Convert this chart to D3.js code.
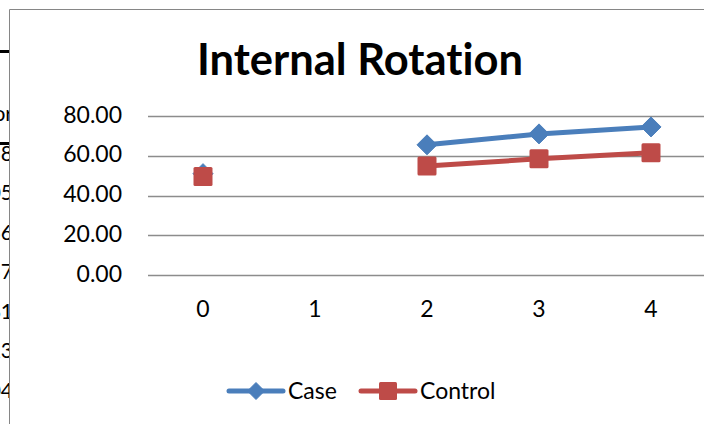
<!DOCTYPE html>
<html lang="en">
<head>
    <meta charset="UTF-8">
    <title>Internal Rotation</title>
    <script src="https://d3js.org/d3.v7.min.js"></script>
    <style>
        body { margin: 0; background: #fff; }
        svg { display: block; font-family: Lato, "Open Sans", sans-serif; font-variant-ligatures: none; font-feature-settings: "liga" 0; }
    </style>
</head>
<body>
    <svg id="chart" width="704" height="424"></svg>

    <script>
        // Data
        const categories = ["0", "1", "2", "3", "4"];
        const caseValues = [51, null, 65.5, 71, 74.5];
        const controlValues = [49.5, null, 54.8, 58.5, 61.5];
        const yTicks = [0, 20, 40, 60, 80];
        // bits of the spreadsheet peeking out on the left
        const sheetBits = ["or", "38", "05", "36", "57", "61", "23", "04"];

        const svg = d3.select("#chart");
        const W = 704, H = 424;

        svg.append("rect").attr("width", W).attr("height", H).attr("fill", "#fff");

        // spreadsheet remnants left of the chart frame
        svg.append("clipPath").attr("id", "leftClip")
            .append("rect").attr("x", 0).attr("y", 0).attr("width", 9).attr("height", H);
        const sheet = svg.append("g").attr("clip-path", "url(#leftClip)");
        sheet.selectAll("text")
            .data(sheetBits)
            .enter()
            .append("text")
            .attr("x", 13)
            .attr("y", (d, i) => 121 + i * 39.5)
            .attr("text-anchor", "end")
            .attr("font-size", 21)
            .attr("fill", "#000")
            .text(d => d);
        sheet.append("rect").attr("x", 0).attr("y", 50).attr("width", 9).attr("height", 3).attr("fill", "#000");
        sheet.append("rect").attr("x", 0).attr("y", 142).attr("width", 9).attr("height", 3).attr("fill", "#000");

        // chart frame
        svg.append("path")
            .attr("d", `M9.5,${H} V9.5 H${W}`)
            .attr("fill", "none")
            .attr("stroke", "#868686")
            .attr("stroke-width", 1);

        // title
        svg.append("text")
            .attr("x", 360)
            .attr("y", 75)
            .attr("text-anchor", "middle")
            .attr("font-size", 43.5)
            .attr("font-weight", "bold")
            .attr("fill", "#000")
            .text("Internal Rotation");

        // scales
        const x = d3.scaleBand().domain(categories).range([147, 707]);
        const y = d3.scaleLinear().domain([0, 80]).range([275, 116]);
        const cx = c => x(c) + x.bandwidth() / 2;

        // gridlines (with the little outside tick)
        svg.append("g")
            .selectAll("line")
            .data(yTicks)
            .enter()
            .append("line")
            .attr("x1", 148)
            .attr("x2", W)
            .attr("y1", d => Math.round(y(d)) + 0.5)
            .attr("y2", d => Math.round(y(d)) + 0.5)
            .attr("stroke", "#8c8c8c")
            .attr("stroke-width", 1.5);

        // y axis labels
        svg.append("g")
            .selectAll("text")
            .data(yTicks)
            .enter()
            .append("text")
            .attr("x", 122)
            .attr("y", d => y(d) + 6.5)
            .attr("text-anchor", "end")
            .attr("font-size", 23)
            .attr("fill", "#000")
            .text(d => d.toFixed(2));

        // x axis labels
        svg.append("g")
            .selectAll("text")
            .data(categories)
            .enter()
            .append("text")
            .attr("x", d => cx(d))
            .attr("y", 317)
            .attr("text-anchor", "middle")
            .attr("font-size", 23)
            .attr("fill", "#000")
            .text(d => d);

        const series = [
            { name: "Case", values: caseValues, color: "#4A7EBB", shape: "diamond" },
            { name: "Control", values: controlValues, color: "#BE4B48", shape: "square" }
        ];

        const line = d3.line()
            .defined(d => d.v != null)
            .x(d => cx(d.c))
            .y(d => y(d.v));

        function marker(g, shape, color, s) {
            if (shape === "diamond") {
                g.append("path")
                    .attr("d", `M0,${-s} L${s},0 L0,${s} L${-s},0 Z`)
                    .attr("fill", color)
                    .attr("stroke", color)
                    .attr("stroke-linejoin", "round")
                    .attr("stroke-width", 1);
            } else {
                g.append("rect")
                    .attr("x", -s).attr("y", -s)
                    .attr("width", 2 * s).attr("height", 2 * s)
                    .attr("rx", 1.5)
                    .attr("fill", color);
            }
        }

        series.forEach(s => {
            const pts = categories.map((c, i) => ({ c: c, v: s.values[i] }));
            svg.append("path")
                .datum(pts)
                .attr("d", line)
                .attr("fill", "none")
                .attr("stroke", s.color)
                .attr("stroke-width", 5)
                .attr("stroke-linecap", "round")
                .attr("stroke-linejoin", "round");
            pts.filter(d => d.v != null).forEach(d => {
                const g = svg.append("g").attr("transform", `translate(${cx(d.c)},${y(d.v)})`);
                marker(g, s.shape, s.color, s.shape === "diamond" ? 10 : 9.5);
            });
        });

        // legend
        const legendItems = [
            { x0: 229, x1: 283, tx: 288 },
            { x0: 361, x1: 415, tx: 420 }
        ];
        const legend = svg.append("g");
        series.forEach((s, i) => {
            const li = legendItems[i];
            const ly = 391;
            legend.append("line")
                .attr("x1", li.x0).attr("x2", li.x1)
                .attr("y1", ly).attr("y2", ly)
                .attr("stroke", s.color)
                .attr("stroke-width", 5)
                .attr("stroke-linecap", "round");
            const g = legend.append("g").attr("transform", `translate(${(li.x0 + li.x1) / 2},${ly})`);
            marker(g, s.shape, s.color, s.shape === "diamond" ? 8.5 : 9);
            legend.append("text")
                .attr("x", li.tx)
                .attr("y", ly + 8)
                .attr("font-size", 23)
                .attr("fill", "#000")
                .text(s.name);
        });
    </script>
</body>
</html>
